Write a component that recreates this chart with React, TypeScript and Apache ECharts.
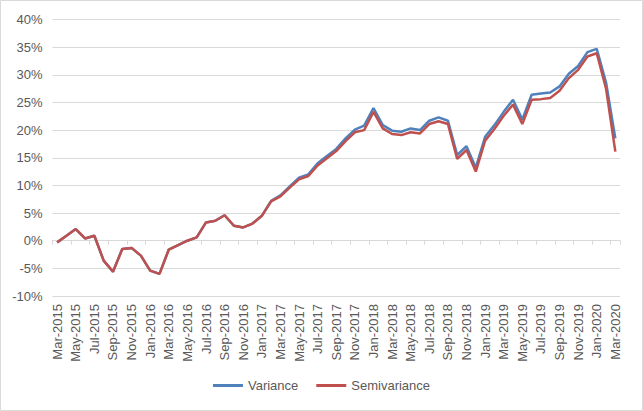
import React, { useEffect, useRef } from "react";
import * as echarts from "echarts";

const months = ["Jan", "Feb", "Mar", "Apr", "May", "Jun", "Jul", "Aug", "Sep", "Oct", "Nov", "Dec"];
const categories: string[] = [];
for (let i = 0; i < 61; i++) {
  const m = (2 + i) % 12;
  const y = 2015 + Math.floor((2 + i) / 12);
  categories.push(`${months[m]}-${y}`);
}

const variance = [
  -0.3, 0.9, 2.1, 0.4, 0.9, -3.6, -5.6, -1.5, -1.3, -2.7,
  -5.4, -6.0, -1.6, -0.8, 0.0, 0.6, 3.3, 3.6, 4.6, 2.7,
  2.4, 3.1, 4.5, 7.2, 8.2, 9.8, 11.4, 12.0, 14.0, 15.3,
  16.6, 18.5, 20.1, 20.8, 24.0, 20.9, 19.9, 19.7, 20.3, 20.0,
  21.7, 22.3, 21.7, 15.5, 17.1, 13.2, 18.8, 20.9, 23.3, 25.5,
  21.9, 26.4, 26.6, 26.8, 27.9, 30.2, 31.6, 34.1, 34.7, 28.6,
  18.5,
];

const semivariance = [
  -0.3, 0.9, 2.1, 0.4, 0.9, -3.6, -5.6, -1.5, -1.3, -2.7,
  -5.4, -6.0, -1.6, -0.8, 0.0, 0.6, 3.3, 3.6, 4.6, 2.7,
  2.4, 3.1, 4.5, 7.1, 8.0, 9.6, 11.1, 11.7, 13.6, 14.9,
  16.2, 18.0, 19.6, 20.0, 23.3, 20.3, 19.3, 19.1, 19.6, 19.4,
  21.1, 21.6, 21.1, 14.8, 16.4, 12.5, 18.1, 20.2, 22.6, 24.6,
  21.1, 25.5, 25.6, 25.8, 27.1, 29.4, 30.9, 33.3, 33.9, 27.5,
  16.1,
];

const FONT = "'Liberation Sans', Arial, sans-serif";
const TXT = "#595959";
const GRID = "#d9d9d9";

export default function App() {
  const ref = useRef<HTMLDivElement>(null);
  useEffect(() => {
    if (!ref.current) return;
    const chart = echarts.init(ref.current, undefined, { renderer: "svg" });
    chart.setOption({
      animation: false,
      backgroundColor: "#ffffff",
      textStyle: { fontFamily: FONT },
      graphic: [
        {
          type: "rect",
          shape: { x: 0.5, y: 0.5, width: 642, height: 410 },
          style: { fill: "none", stroke: GRID, lineWidth: 1 },
          silent: true,
        },
      ],
      grid: { left: 52.5, right: 23, top: 19.5, bottom: 115, containLabel: false },
      legend: {
        bottom: 14,
        left: "center",
        icon: "rect",
        itemWidth: 30,
        itemHeight: 3,
        itemGap: 18,
        textStyle: { color: TXT, fontSize: 13, fontFamily: FONT },
        data: ["Variance", "Semivariance"],
      },
      xAxis: [
        {
          type: "category",
          data: categories,
          boundaryGap: true,
          axisLine: { onZero: true, lineStyle: { color: GRID, width: 1 } },
          axisTick: { show: true, interval: 1, length: 4, lineStyle: { color: GRID } },
          axisLabel: { show: false },
          splitLine: { show: false },
        },
        {
          type: "category",
          data: categories,
          boundaryGap: true,
          position: "bottom",
          axisLine: { show: false, onZero: false },
          axisTick: { show: false },
          axisLabel: {
            interval: 1,
            rotate: 90,
            margin: 8,
            color: TXT,
            fontSize: 13,
            fontFamily: FONT,
          },
        },
      ],
      yAxis: {
        type: "value",
        min: -10,
        max: 40,
        interval: 5,
        axisLine: { show: false },
        axisTick: { show: false },
        axisLabel: {
          formatter: "{value}%",
          color: TXT,
          fontSize: 13,
          fontFamily: FONT,
          margin: 10,
        },
        splitLine: { lineStyle: { color: GRID, width: 1 } },
      },
      series: [
        {
          name: "Variance",
          type: "line",
          xAxisIndex: 0,
          data: variance,
          symbol: "none",
          lineStyle: { color: "#4F81BD", width: 2.5 },
          itemStyle: { color: "#4F81BD" },
        },
        {
          name: "Semivariance",
          type: "line",
          xAxisIndex: 0,
          data: semivariance,
          symbol: "none",
          lineStyle: { color: "#C0504D", width: 2.5 },
          itemStyle: { color: "#C0504D" },
        },
      ],
    });
    return () => chart.dispose();
  }, []);
  return (
    <div
      ref={ref}
      style={{ position: "fixed", left: 0, top: 0, width: 643, height: 411 }}
    />
  );
}
